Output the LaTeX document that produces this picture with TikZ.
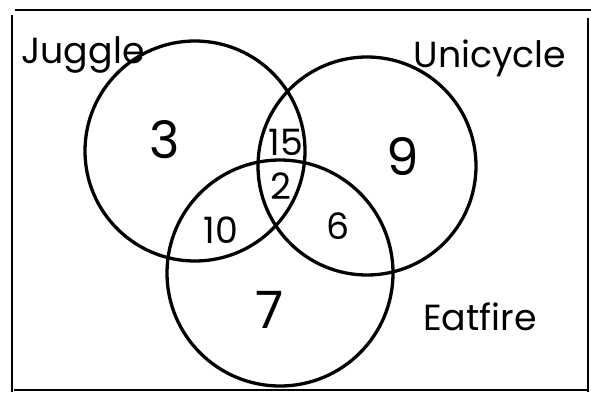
\documentclass[tikz,border=0pt]{standalone}
\usepackage{fontspec}
\setmainfont{Poppins}
\usepackage{tikz}
\usetikzlibrary{positioning}

\begin{document}
\begin{tikzpicture}[
    x=0.03cm, y=-0.03cm,
    set/.style={circle, draw, line width=2.8pt, inner sep=0pt},
    setname/.style={font=\fontsize{31}{33}\selectfont},
    count/.style={font=\fontsize{44}{46}\selectfont},
    small/.style={font=\fontsize{31}{33}\selectfont, inner sep=1pt},
    frame/.style={line width=2.4pt}
]
    \useasboundingbox (0,0) rectangle (591,392);
    % frame round the sets
    \draw[frame] (15,10) -- (591,10);
    \draw[frame] (12,15) -- (12,392);
    \draw[frame] (588,18) -- (588,392);
    \draw[frame] (14,390) -- (588,390);

    \node[set, minimum size=220*0.03cm] (juggle) at (195,151) {};
    \node[set, minimum size=218*0.03cm] (unicycle) at (367,166) {};
    \node[set, minimum size=226*0.03cm] (eatfire) at (280,273) {};

    \node[setname] (jname) at (83,55) {Juggle};
    \node[setname] (uname) at (490,58) {Unicycle};
    \node[setname] (ename) at (480,317) {Eatfire};

    \node[count] (onlyJ) at (165,140) {3};
    \node[small] (JU) at (286,142) {15};
    \node[count] (onlyU) at (403,157) {9};
    \node[small] (JUE) at (281,186) {2};
    \node[small] (JE) at (221,230) {10};
    \node[small] (UE) at (338,226) {6};
    \node[count] (onlyE) at (270,310) {7};
\end{tikzpicture}
\end{document}
